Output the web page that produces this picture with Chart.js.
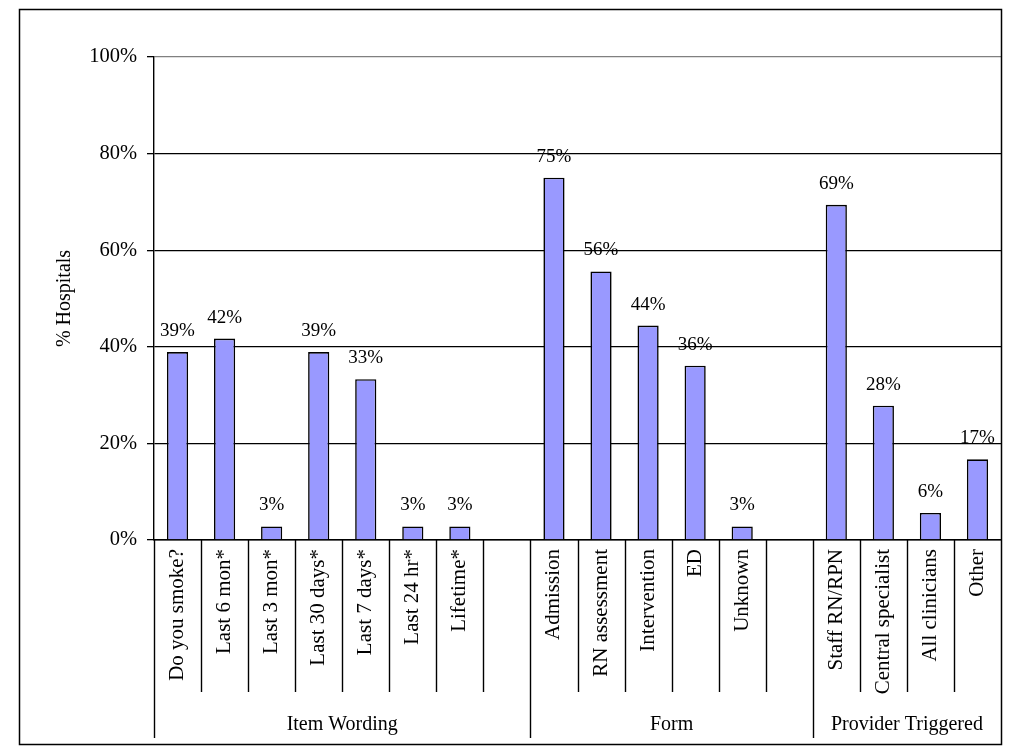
<!DOCTYPE html>
<html>
<head>
<meta charset="utf-8">
<script src="https://cdn.jsdelivr.net/npm/chart.js@4/dist/chart.umd.min.js"></script>
<style>
  html, body { margin: 0; padding: 0; background: #fff; }
  #wrap { width: 1024px; height: 754px; position: relative; }
</style>
</head>
<body>
<div id="wrap"><canvas id="c" width="1024" height="754"></canvas></div>
<script>
// ---- data ----
const categories = [
  'Do you smoke?', 'Last 6 mon*', 'Last 3 mon*', 'Last 30 days*', 'Last 7 days*', 'Last 24 hr*', 'Lifetime*', '',
  'Admission', 'RN assessment', 'Intervention', 'ED', 'Unknown', '',
  'Staff RN/RPN', 'Central specialist', 'All clinicians', 'Other'
];
const hospitalsPct = [
  38.9, 41.7, 2.8, 38.9, 33.3, 2.8, 2.8, null,
  75.0, 55.6, 44.4, 36.1, 2.8, null,
  69.4, 27.8, 5.6, 16.7
];
const groupNames = ['Item Wording', 'Form', 'Provider Triggered'];
const groupSizes = [8, 6, 4];
const yTicks = [0, 20, 40, 60, 80, 100];

const SERIF = '"Liberation Serif", "Times New Roman", serif';

const decorPlugin = {
  id: 'decor',
  afterDraw(chart) {
    const ctx = chart.ctx;
    const xs = chart.scales.x;
    const ca = chart.chartArea;
    const n = categories.length;
    const step = (xs.getPixelForTick(n - 1) - xs.getPixelForTick(0)) / (n - 1);
    const boundary = i => xs.getPixelForTick(0) - step / 2 + i * step;
    const groupEdges = [0];
    groupSizes.forEach(s => groupEdges.push(groupEdges[groupEdges.length - 1] + s));
    ctx.save();
    ctx.strokeStyle = '#000';
    ctx.lineWidth = 1.4;
    for (let i = 0; i < n; i++) {
      const x = Math.round(boundary(i)) + 0.5;
      const isGroup = groupEdges.includes(i);
      ctx.beginPath();
      ctx.moveTo(x, ca.bottom);
      ctx.lineTo(x, isGroup ? ca.bottom + 198 : ca.bottom + 152);
      ctx.stroke();
    }
    // group labels
    ctx.fillStyle = '#000';
    ctx.font = '20px ' + SERIF;
    ctx.textAlign = 'center';
    ctx.textBaseline = 'alphabetic';
    for (let g = 0; g < groupNames.length; g++) {
      const cx = (boundary(groupEdges[g]) + boundary(groupEdges[g + 1])) / 2;
      ctx.fillText(groupNames[g], cx, ca.bottom + 190);
    }
    // data labels
    ctx.font = '19px ' + SERIF;
    ctx.textBaseline = 'middle';
    const meta = chart.getDatasetMeta(0);
    meta.data.forEach((bar, i) => {
      const v = hospitalsPct[i];
      if (v === null || v === undefined) return;
      ctx.fillText(Math.round(v) + '%', bar.x, bar.y - 21);
    });
    // outer frame
    ctx.lineWidth = 1.5;
    ctx.strokeStyle = '#000';
    ctx.strokeRect(19.5, 9.5, 982, 735);
    ctx.restore();
  }
};

new Chart(document.getElementById('c'), {
  type: 'bar',
  data: {
    labels: categories,
    datasets: [{
      data: hospitalsPct,
      backgroundColor: '#9999FF',
      borderColor: '#000',
      borderWidth: 1.6,
      barPercentage: 0.45,
      categoryPercentage: 1.0
    }]
  },
  options: {
    responsive: false,
    animation: false,
    devicePixelRatio: 1,
    layout: { padding: { left: 0, right: 23, top: 57, bottom: 0 } },
    plugins: { legend: { display: false }, tooltip: { enabled: false } },
    scales: {
      x: {
        offset: true,
        grid: { display: false, drawTicks: false },
        border: { display: true, color: '#000', width: 1.4 },
        ticks: {
          autoSkip: false,
          minRotation: 90,
          maxRotation: 90,
          padding: 9,
          color: '#000',
          font: { family: SERIF, size: 21 }
        },
        afterFit(scale) { scale.height = 214; }
      },
      y: {
        min: 0,
        max: 100,
        afterBuildTicks(scale) { scale.ticks = yTicks.map(v => ({ value: v })); },
        grid: {
          color: ctx => (ctx.tick && ctx.tick.value === 100) ? '#808080' : '#000',
          tickColor: '#000',
          lineWidth: 1.3,
          tickLength: 7
        },
        border: { display: true, color: '#000', width: 1.4 },
        ticks: {
          padding: 10,
          color: '#000',
          font: { family: SERIF, size: 20.5 },
          callback: v => v + '%'
        },
        title: {
          display: true,
          text: '% Hospitals',
          color: '#000',
          font: { family: SERIF, size: 20 },
          padding: { top: 53, bottom: 0 }
        },
        afterFit(scale) { scale.width = 154; }
      }
    }
  },
  plugins: [decorPlugin]
});
</script>
</body>
</html>
